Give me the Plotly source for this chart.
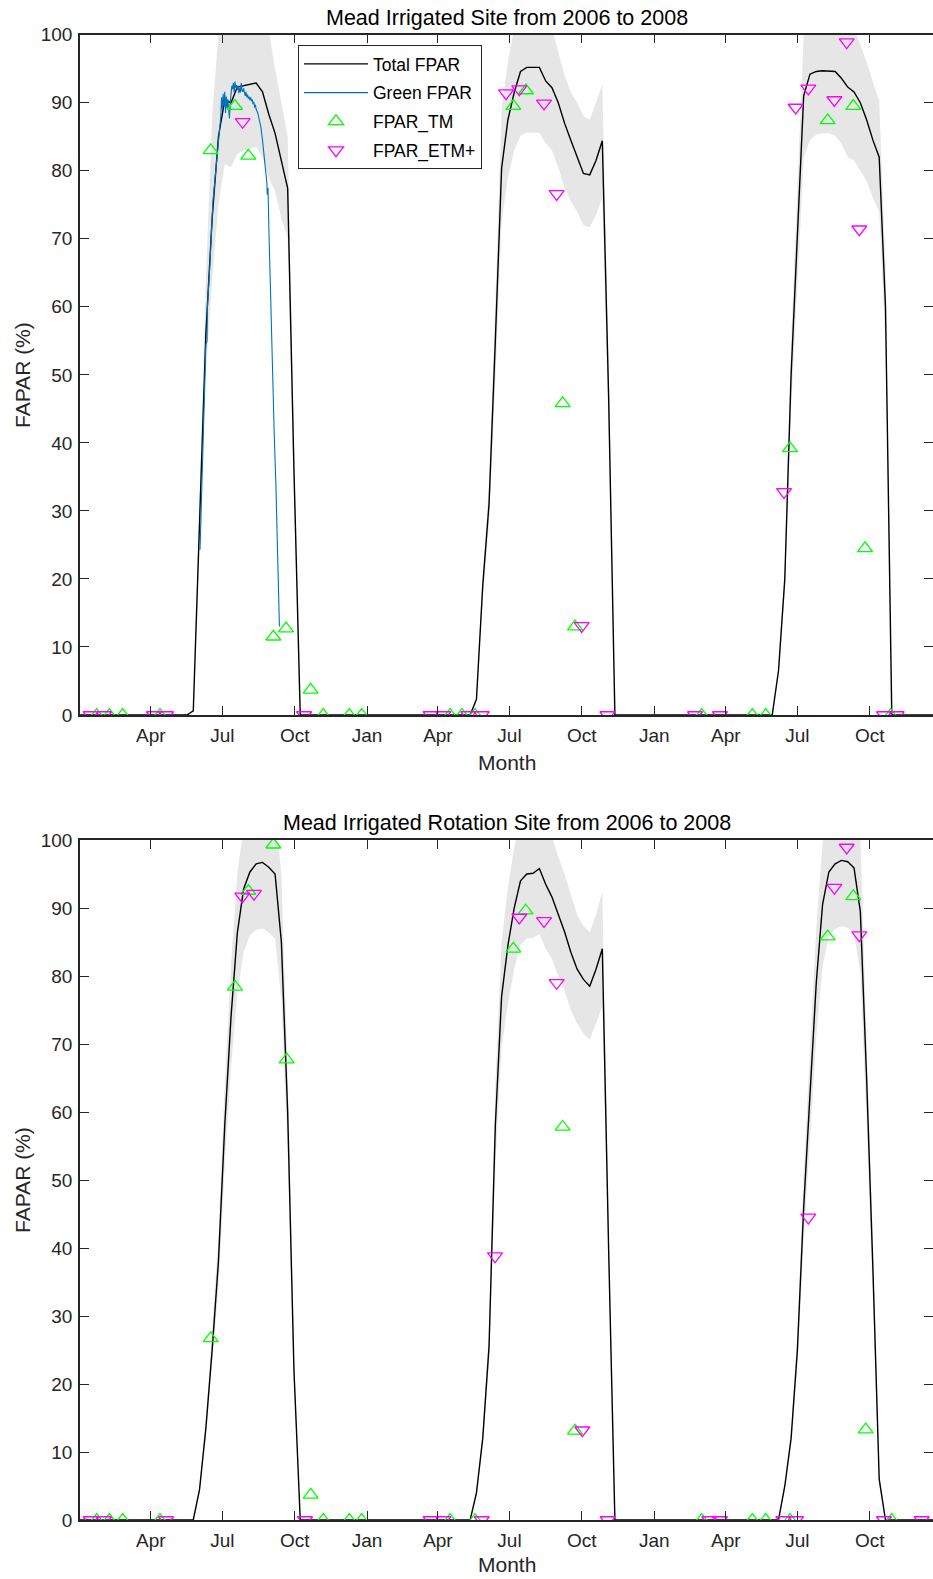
import plotly.graph_objects as go
import pandas as pd

# ---------------- data (x = days since 2006-01-01) ----------------
top_days = [0, 136, 144, 152, 160, 168, 176, 184, 192, 200, 208, 216, 224, 232, 240, 248, 256, 264, 272, 280,
            496, 504, 512, 520, 528, 536, 544, 552, 560, 568, 576, 584, 592, 600, 608, 616, 624, 632, 640, 648, 656, 664, 672, 680,
            872, 880, 888, 896, 904, 912, 920, 928, 936, 944, 952, 960, 968, 976, 984, 992, 1000, 1008, 1016, 1024, 1032, 1095]
top_total = [0, 0, 0.6, 28, 56, 73, 85, 90.4, 90, 92.3, 92.5, 92.7, 92.9, 91.6, 88.3, 85.5, 81.5, 77.4, 36, 0,
             0, 2.3, 19, 31, 55, 80.4, 87.5, 91.5, 94.6, 95.2, 95.2, 95.2, 93.2, 92.2, 90, 87, 84.5, 82, 79.6, 79.4, 81.5, 84.4, 47, 0,
             0, 0, 6.5, 20, 50, 70, 91, 94.2, 94.6, 94.7, 94.7, 94.6, 93.6, 92.3, 91.6, 90, 87.5, 84.5, 82, 60, 0, 0]
top_low = [0, 0, 0.5, 25, 50, 64, 75, 81, 80.5, 82.5, 83, 83.3, 83.5, 82, 79, 77, 73, 70, 32, 0,
           0, 2, 17, 28, 49, 72.5, 79, 83, 85.2, 85.6, 85.6, 85.6, 84, 83, 80.5, 77.5, 75.5, 74, 72, 71.7, 73.5, 76, 42, 0,
           0, 0, 6, 18, 45, 63, 82, 84.5, 85.3, 85.5, 85.5, 85.2, 84, 82, 81.5, 80, 78.5, 76, 74, 54, 0, 0]
top_high = [0, 0, 0.7, 31, 64, 88, 100, 105, 105, 106, 106, 106, 106, 104, 100.5, 95, 90, 85, 40, 0,
            0, 2.6, 21, 34, 61, 89, 96, 101, 104, 105, 105, 105, 102.5, 101, 97.5, 94, 91.5, 90, 88, 87.5, 90, 92.8, 52, 0,
            0, 0, 7, 22, 55, 77, 100, 104, 104, 104, 104, 104, 103, 102, 101, 98.5, 96, 93, 90.3, 66, 0, 0]

green_days = [152.6, 155, 158, 160, 161.5, 162, 165, 167, 168.5, 169, 171, 174, 177, 179, 180, 181, 182, 183, 184,
              185, 186, 187, 188, 189, 190, 191, 192, 193, 194, 195, 196, 197, 198, 199, 200, 201, 202, 203, 204,
              205, 206, 207, 208, 209, 210, 211, 212, 213, 214, 215, 216, 217, 218, 219, 220, 221, 222, 223, 224,
              226, 228, 230, 232, 234, 236, 237.5, 238, 239, 240, 241.5, 243, 245, 247, 249, 251, 252.5, 253.5]
green_vals = [24.3, 33, 44, 54.5, 55, 60, 66, 71, 73.5, 75.5, 78, 82, 85, 88, 90.8, 89, 91.3, 89.5, 91.6,
              88.5, 90.9, 89.2, 90.5, 88, 87.7, 90, 91.5, 92.5, 92, 92.9, 91.5, 93.1, 92.2, 92.6, 91.9, 92.5, 91.4, 92.2, 91.5,
              92.9, 91.8, 91.6, 92.1, 91.3, 91, 91.6, 90.8, 91.2, 90.6, 90.9, 90.4, 90.8, 90.2, 90.5, 89.8, 90.1, 89.3, 89.7, 89,
              88.5, 87.6, 86.4, 84.5, 82.2, 79.8, 78.3, 76.5, 77.5, 72, 64.5, 57, 49, 41, 34, 25, 17, 13]

top_tm_days = [21.2, 37.3, 54.2, 101.7, 166.1, 197, 214, 245.8, 261.9, 293.2, 309.3, 342.4, 358.1, 470.4, 485.6, 502.2,
               550.9, 567, 613.6, 629.3, 790.3, 854.7, 871.7, 902.6, 950.5, 983.1, 998, 1030.6]
top_tm_vals = [0, 0, 0, 0, 83.0, 89.5, 82.2, 11.5, 12.7, 3.7, 0, 0, 0, 0, 0, 0,
               89.5, 91.8, 45.8, 13, 0, 0, 0, 39.2, 87.4, 89.5, 24.5, 0]
top_etm_days = [13.6, 30.5, 94.1, 109.3, 206.8, 284.8, 445.8, 461.9, 493.7, 510.7, 541.6, 558.5, 589.9, 606, 637.8,
                670.4, 781.8, 813.6, 895, 909.8, 925.9, 959, 974.7, 990.7, 1022.1, 1038.2]
top_etm_vals = [0, 0, 0, 0, 87.2, 0, 0, 0, 0, 0, 91.4, 92, 89.9, 76.6, 13.1,
                0, 0, 0, 32.8, 89.3, 92.1, 90.4, 98.9, 71.4, 0, 0]

bot_days = [0, 144, 152, 160, 168, 176, 184, 192, 200, 208, 216, 224, 232, 240, 248, 256, 264, 272, 280,
            496, 504, 512, 520, 528, 536, 544, 552, 560, 568, 576, 584, 592, 600, 608, 616, 624, 632, 640, 648, 656, 664, 672, 680,
            888, 896, 904, 912, 920, 928, 936, 944, 952, 960, 968, 976, 984, 992, 1000, 1008, 1016, 1024, 1095]
bot_total = [0, 0, 4.5, 13.5, 25, 38, 58, 74, 86.3, 92.8, 95.3, 96.5, 96.7, 96, 95, 85, 60, 22, 0,
             0, 4, 12, 25.5, 58, 77, 84.5, 90, 94, 95, 95.1, 95.8, 93.5, 91.6, 89, 86.5, 83.5, 81, 79.5, 78.5, 81, 84, 40, 0,
             0, 5, 12, 25, 46, 62, 79, 90.5, 95.3, 96.5, 97, 96.8, 95.9, 89.5, 65, 37, 6, 0, 0]
bot_low = [0, 0, 4, 12, 22.5, 34, 52, 66.5, 77.5, 83.5, 86, 86.8, 87, 86.4, 85.5, 76.5, 54, 20, 0,
           0, 3.6, 11, 23, 52, 69.5, 76, 81, 84.6, 85.5, 85.6, 86.2, 84, 82.5, 80, 77.8, 75, 73, 71.5, 70.7, 73, 75.6, 36, 0,
           0, 4.5, 11, 22.5, 41, 56, 71, 81.5, 85.8, 86.9, 87.3, 87.1, 86.3, 80.5, 58.5, 33, 5, 0, 0]
bot_high = [0, 0, 5, 15, 28, 42, 64, 81.5, 95, 102, 105, 106, 106, 105.6, 104.5, 95, 66, 24, 0,
            0, 4.4, 13, 28, 64, 85, 93, 99, 103, 104.5, 104.6, 105.4, 103, 100.5, 97.5, 95, 92, 89, 87.4, 86.4, 89, 92.4, 44, 0,
            0, 5.5, 13, 27.5, 51, 68, 87, 99.5, 104.8, 106, 106.7, 106.5, 105.5, 100.5, 71.5, 41, 7, 0, 0]

bot_tm_days = [21.2, 37.3, 54.2, 101.7, 166.1, 197, 214, 245.8, 262.8, 293.3, 309.3, 342.4, 358.1, 470.4, 502.2,
               550.9, 566.6, 613.6, 629.3, 790.3, 854.7, 871.7, 902.6, 950.5, 983.1, 998.8, 1031.9]
bot_tm_vals = [0, 0, 0, 0, 26.7, 78.4, 92.5, 99.3, 67.7, 3.7, 0, 0, 0, 0, 0,
               84, 89.6, 57.8, 13.1, 0, 0, 0, 0, 85.8, 91.7, 13.3, 0]
bot_etm_days = [13.6, 30.5, 109.3, 206.3, 221.2, 286, 445.8, 461.9, 510.7, 527.6, 558.5, 589.9, 606, 638.6, 670.8,
                800, 813.6, 894.2, 910.2, 925.9, 959, 974.7, 990.7, 1022.1, 1070]
bot_etm_vals = [0, 0, 0, 91.7, 92.1, 0, 0, 0, 0, 38.8, 88.6, 88.1, 79, 13.2, 0,
                0, 0, 0, 0, 44.5, 93, 98.9, 86, 0, 0]

tick_dates = ["2006-04-01", "2006-07-01", "2006-10-01", "2007-01-01", "2007-04-01", "2007-07-01",
              "2007-10-01", "2008-01-01", "2008-04-01", "2008-07-01", "2008-10-01"]
tick_text = ["Apr", "Jul", "Oct", "Jan", "Apr", "Jul", "Oct", "Jan", "Apr", "Jul", "Oct"]
y_ticks = [0, 10, 20, 30, 40, 50, 60, 70, 80, 90, 100]

titles = ["Mead Irrigated Site from 2006 to 2008", "Mead Irrigated Rotation Site from 2006 to 2008"]

# ---------------- figure ----------------
BASE = pd.Timestamp("2006-01-01")


def to_dates(days):
    return [BASE + pd.Timedelta(days=float(d)) for d in days]


FONT = "Liberation Sans, Arial, Helvetica, sans-serif"
AXC = "#262626"
fig = go.Figure()


def add_panel(xa, ya, days, total, low, high, tm_d, tm_v, etm_d, etm_v, legend):
    x = to_dates(days)
    fig.add_trace(go.Scatter(x=x + x[::-1], y=list(high) + list(low)[::-1], fill="toself",
                             fillcolor="#e6e6e6", line=dict(width=0, color="#e6e6e6"), mode="lines",
                             hoverinfo="skip", showlegend=False, xaxis=xa, yaxis=ya))
    fig.add_trace(go.Scatter(x=x, y=total, mode="lines", name="Total FPAR",
                             line=dict(color="black", width=1.4), showlegend=legend,
                             legendgroup="a", xaxis=xa, yaxis=ya))
    if legend:
        fig.add_trace(go.Scatter(x=to_dates(green_days), y=green_vals, mode="lines", name="Green FPAR",
                                 line=dict(color="#0072BD", width=1.1), showlegend=True,
                                 legendgroup="b", xaxis=xa, yaxis=ya))
    fig.add_trace(go.Scatter(x=to_dates(tm_d), y=tm_v, mode="markers", name="FPAR_TM",
                             marker=dict(symbol="triangle-up-open", size=13, color="#00FF00",
                                         line=dict(width=1.3, color="#00FF00")),
                             showlegend=legend, legendgroup="c", xaxis=xa, yaxis=ya))
    fig.add_trace(go.Scatter(x=to_dates(etm_d), y=etm_v, mode="markers", name="FPAR_ETM+",
                             marker=dict(symbol="triangle-down-open", size=13, color="#FF00FF",
                                         line=dict(width=1.3, color="#FF00FF")),
                             showlegend=legend, legendgroup="d", xaxis=xa, yaxis=ya))


add_panel("x", "y", top_days, top_total, top_low, top_high, top_tm_days, top_tm_vals,
          top_etm_days, top_etm_vals, True)
add_panel("x2", "y2", bot_days, bot_total, bot_low, bot_high, bot_tm_days, bot_tm_vals,
          bot_etm_days, bot_etm_vals, False)

W, H = 933, 1579
L = 80
xr = [BASE, BASE + pd.Timedelta(days=1084.4)]


def xaxis(anchor):
    return dict(type="date", range=xr, domain=[0, 1], anchor=anchor, automargin=False,
                tickvals=tick_dates, ticktext=tick_text, ticks="inside", ticklen=9,
                tickwidth=1.3, tickcolor=AXC, showline=True, linecolor=AXC, linewidth=1.5,
                mirror="ticks", showgrid=False, zeroline=False,
                tickfont=dict(family=FONT, size=19, color=AXC), ticklabelstandoff=2)


def yaxis(anchor, dom):
    return dict(range=[0, 100], domain=dom, anchor=anchor, tickvals=y_ticks, automargin=False,
                ticks="inside", ticklen=9, tickwidth=1.3, tickcolor=AXC, showline=True,
                linecolor=AXC, linewidth=1.5, mirror="ticks", showgrid=False, zeroline=False,
                tickfont=dict(family=FONT, size=19, color=AXC), ticklabelstandoff=2)


def py(page_px):
    return 1 - page_px / H


def px_x(page_px):
    return (page_px - L) / (W - L)


fig.update_layout(
    width=W, height=H, autosize=False,
    margin=dict(l=L, r=0, t=0, b=0, pad=0, autoexpand=False),
    paper_bgcolor="white", plot_bgcolor="white",
    xaxis=xaxis("y"), yaxis=yaxis("x", [py(715), py(34.7)]),
    xaxis2=xaxis("y2"), yaxis2=yaxis("x2", [py(1520), py(840)]),
    font=dict(family=FONT, color=AXC),
    legend=dict(x=px_x(298), y=py(45), xanchor="left", yanchor="top",
                bgcolor="white", bordercolor=AXC, borderwidth=1,
                font=dict(family=FONT, size=17.5, color="black"),
                traceorder="grouped", tracegroupgap=3, itemwidth=64),
    annotations=[
        dict(text=titles[0], x=0.5, y=py(18), xref="paper", yref="paper", showarrow=False,
             xanchor="center", yanchor="middle", font=dict(family=FONT, size=21.5, color="black")),
        dict(text=titles[1], x=0.5, y=py(823), xref="paper", yref="paper", showarrow=False,
             xanchor="center", yanchor="middle", font=dict(family=FONT, size=21.5, color="black")),
        dict(text="Month", x=0.5, y=py(762), xref="paper", yref="paper", showarrow=False,
             xanchor="center", yanchor="middle", font=dict(family=FONT, size=21, color=AXC)),
        dict(text="Month", x=0.5, y=py(1564), xref="paper", yref="paper", showarrow=False,
             xanchor="center", yanchor="middle", font=dict(family=FONT, size=21, color=AXC)),
        dict(text="FAPAR (%)", x=px_x(22), y=py(375), xref="paper", yref="paper", showarrow=False,
             textangle=-90, xanchor="center", yanchor="middle", font=dict(family=FONT, size=21, color=AXC)),
        dict(text="FAPAR (%)", x=px_x(22), y=py(1180), xref="paper", yref="paper", showarrow=False,
             textangle=-90, xanchor="center", yanchor="middle", font=dict(family=FONT, size=21, color=AXC)),
    ],
)

# remove the default page margin so the figure fills the window exactly
fig.write_html("out.html",
               config={"displayModeBar": False},
               post_script="document.body.style.margin='0';"
                           "document.documentElement.style.overflow='hidden';")
